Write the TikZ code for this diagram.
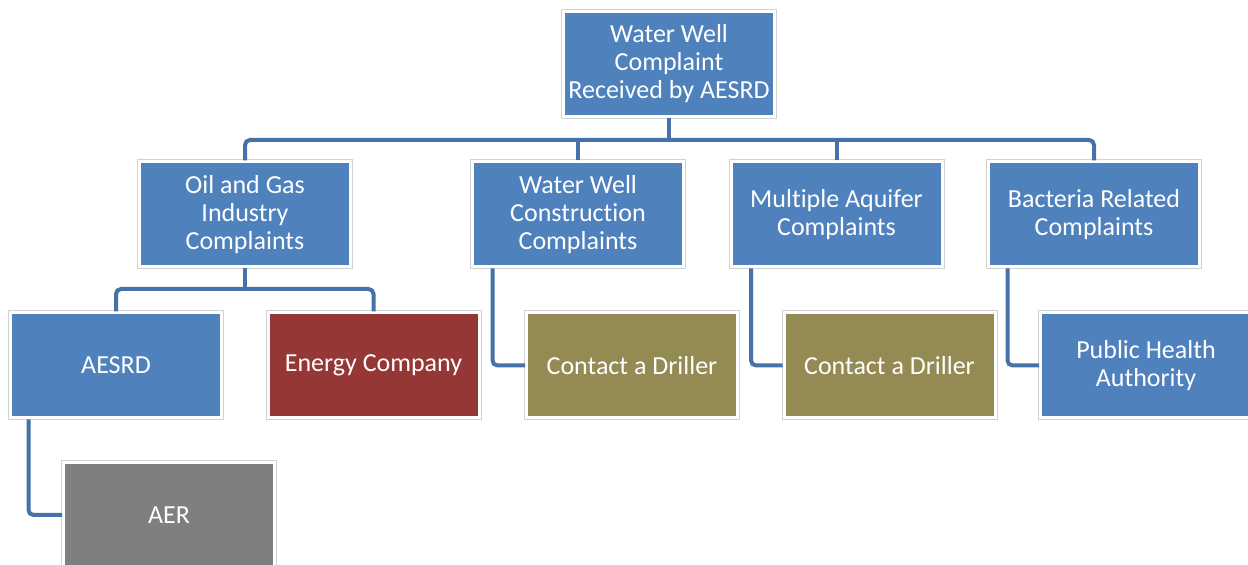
\documentclass[tikz,border=0pt]{standalone}
\usepackage{fontspec}
\setmainfont{Carlito}[Ligatures=NoCommon]
\definecolor{boxblue}{RGB}{79,129,189}
\definecolor{boxred}{RGB}{149,55,53}
\definecolor{boxolive}{RGB}{148,138,84}
\definecolor{boxgray}{RGB}{127,127,127}
\definecolor{linkblue}{RGB}{69,114,167}
\tikzstyle{box}=[rectangle,fill=boxblue,draw=white,line width=1.5pt,preaction={draw=gray!35,line width=2.5pt},minimum width=105.5pt,minimum height=52.5pt,inner sep=0pt,align=center,text=white,font=\fontsize{13pt}{14pt}\selectfont]
\tikzstyle{link}=[draw=linkblue,line width=2pt,rounded corners=2.5pt]

\begin{document}
\begin{tikzpicture}[x=0.5pt,y=-0.5pt]
\useasboundingbox (0,0) rectangle (1248,565);
\node[box] at (669, 64) (top) {Water Well\\Complaint\\Received by AESRD};
\node[box] at (245, 214.5) (oil) {Oil and Gas\\Industry\\Complaints};
\node[box] at (578, 214.5) (wwc) {Water Well\\Construction\\Complaints};
\node[box] at (836.5, 214.5) (maq) {Multiple Aquifer\\Complaints};
\node[box] at (1094, 214.5) (bac) {Bacteria Related\\Complaints};
\node[box] at (116, 365.5) (aesrd) {AESRD};
\node[box, fill=boxred] at (373.5, 365.5) (energy) {Energy Company};
\node[box, fill=boxolive] at (632, 365.5) (drill1) {Contact a Driller};
\node[box, fill=boxolive] at (889.5, 365.5) (drill2) {Contact a Driller};
\node[box] at (1146, 365.5) (pha) {Public Health\\Authority};
\node[box, fill=boxgray] at (169, 515) (aer) {AER};
\coordinate (bus) at (669, 140);
\coordinate (obus) at (245, 289);
\draw[link] (oil.north) |- (bus) -| (bac.north);
\draw[link] (top.south) -- (bus);
\draw[link] (wwc.north) -- (wwc.north |- bus);
\draw[link] (maq.north) -- (maq.north |- bus);
\draw[link] (aesrd.north) |- (obus) -| (energy.north);
\draw[link] (oil.south) -- (obus);
\draw[link] (wwc.south west) ++(21.5,0) |- (drill1.west);
\draw[link] (maq.south west) ++(21.5,0) |- (drill2.west);
\draw[link] (bac.south west) ++(20.5,0) |- (pha.west);
\draw[link] (aesrd.south west) ++(19.5,0) |- (aer.west);
\end{tikzpicture}
\end{document}
